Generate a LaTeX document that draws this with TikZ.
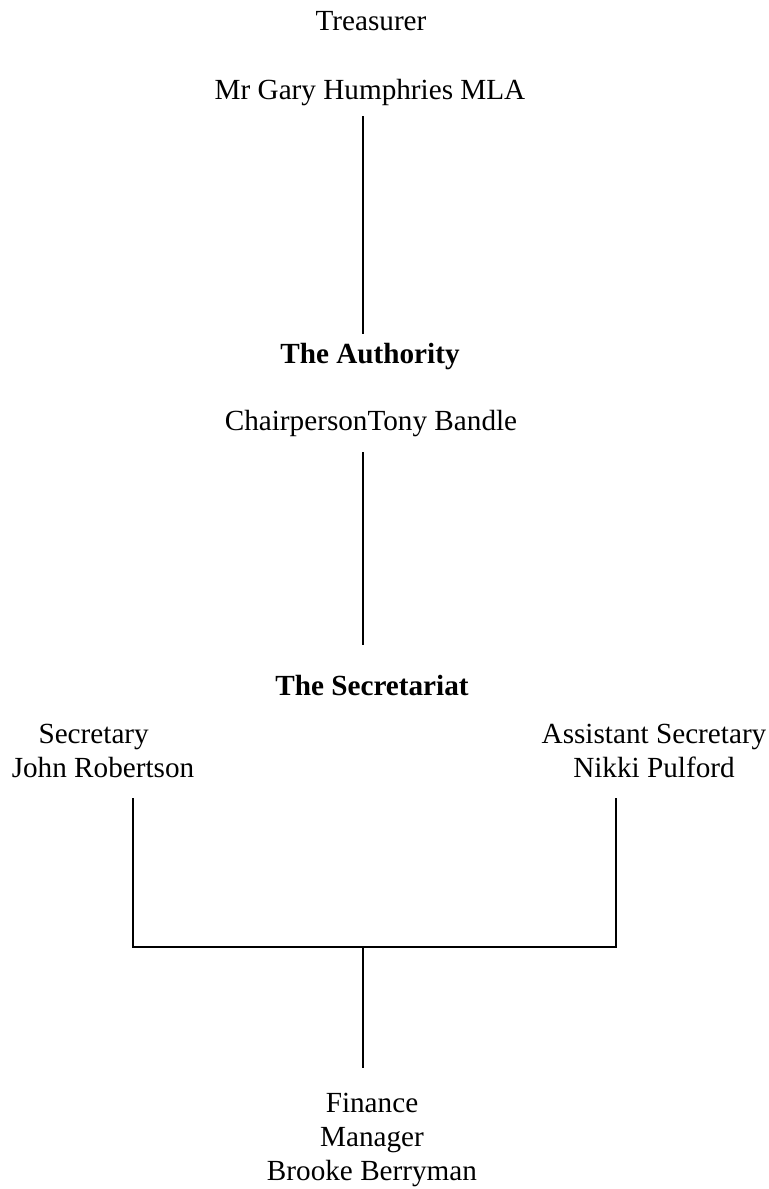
\documentclass[tikz,border=0pt]{standalone}
\usepackage{fontspec}
\setmainfont{Liberation Serif}
\begin{document}
\begin{tikzpicture}[x=0.75pt,y=-0.75pt,
  lbl/.style={inner sep=0pt, anchor=base, align=center,
    font=\fontsize{21.9pt}{25.5pt}\selectfont},
  boldlbl/.style={lbl, font=\fontsize{21.9pt}{25.5pt}\selectfont\bfseries},
  conn/.style={line width=1.5pt, line cap=rect}]
\useasboundingbox (0,0) rectangle (768,1189);
% nodes (base anchor = baseline of the last line)
\node[lbl] (treas) at (371,30) {Treasurer};
\node[lbl] (gary) at (370,99) {Mr Gary Humphries MLA};
\node[boldlbl] (auth) at (370,363) {The Authority};
\node[lbl] (chair) at (371,430) {ChairpersonTony Bandle};
\node[boldlbl] (secr) at (372,695) {The Secretariat};
\node[lbl] (sec) at (103,777) {Secretary\hspace*{14pt}\\John Robertson};
\node[lbl] (asst) at (654,777) {Assistant Secretary\\Nikki Pulford};
\node[lbl] (fin) at (372,1180) {Finance\\Manager\\Brooke Berryman};
% helper coordinates
\coordinate (axis) at (363,0);
\coordinate (busL) at (133,947);
\coordinate (busM) at (363,947);
\coordinate (busR) at (616,947);
% connectors
\draw[conn] ([yshift=-18*0.75pt]gary.base -| axis) -- ([yshift=30*0.75pt]auth.base -| axis);
\draw[conn] ([yshift=-23*0.75pt]chair.base -| axis) -- ([yshift=51*0.75pt]secr.base -| axis);
\draw[conn] ([yshift=-22*0.75pt]sec.base -| busL) -- (busL) -- (busR) -- ([yshift=-22*0.75pt]asst.base -| busR);
\draw[conn] (busM) -- ([yshift=113*0.75pt]fin.base -| busM);
\end{tikzpicture}
\end{document}
